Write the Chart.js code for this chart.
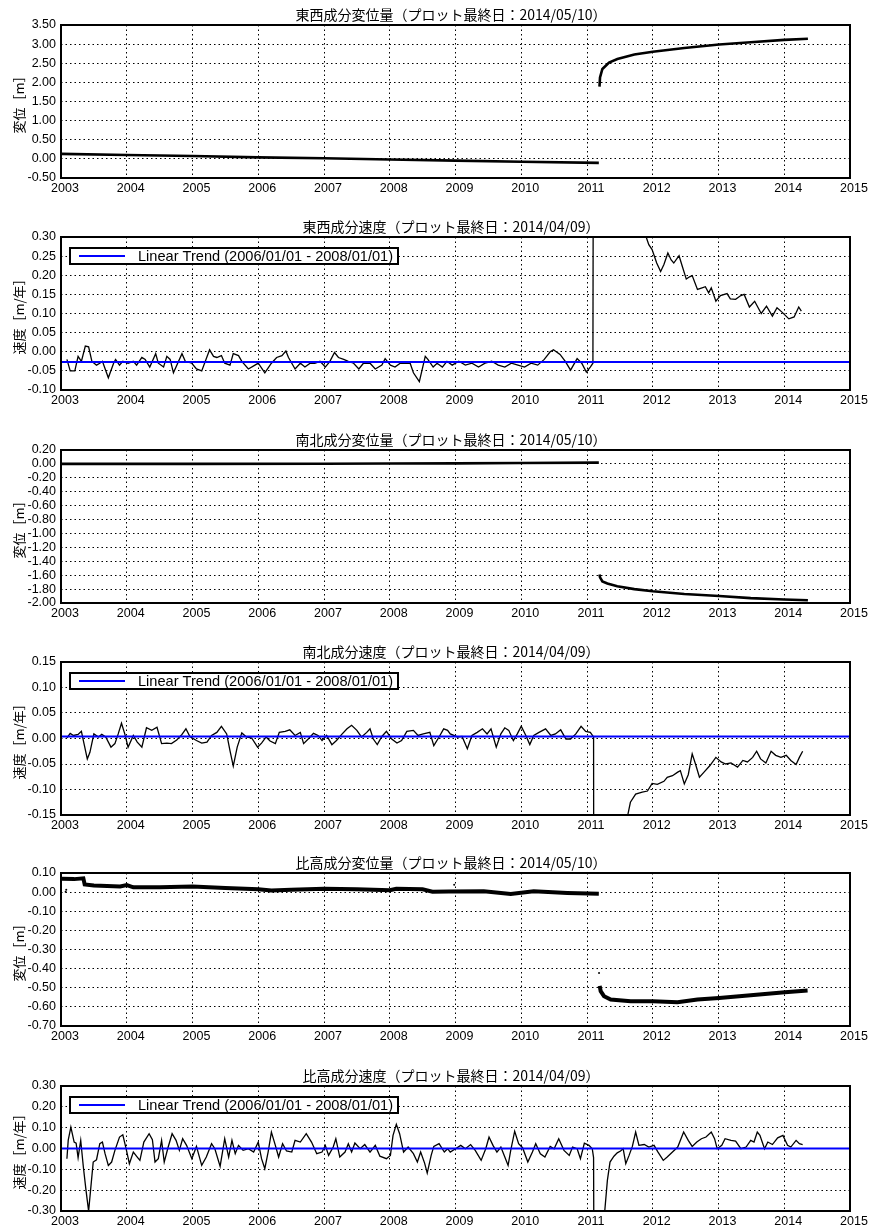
<!DOCTYPE html>
<html lang="ja">
<head>
<meta charset="utf-8">
<title>GNSS 変位・速度</title>
<script src="https://cdn.jsdelivr.net/npm/chart.js@4.4.1/dist/chart.umd.min.js"></script>
<style>
  html, body { margin: 0; padding: 0; background: #fff; }
  #page { position: relative; width: 872px; height: 1228px; overflow: hidden; }
  canvas { position: absolute; left: 0; }
</style>
</head>
<body>
<div id="page">
  <canvas id="p1" width="872" height="198" style="top:0px"></canvas>
  <canvas id="p2" width="872" height="198" style="top:212px"></canvas>
  <canvas id="p3" width="872" height="198" style="top:425px"></canvas>
  <canvas id="p4" width="872" height="198" style="top:637px"></canvas>
  <canvas id="p5" width="872" height="198" style="top:848px"></canvas>
  <canvas id="p6" width="872" height="167" style="top:1061px"></canvas>
</div>
<script>
// ---- axis ticks
const yearTicks = [2003, 2004, 2005, 2006, 2007, 2008, 2009, 2010, 2011, 2012, 2013, 2014, 2015];
const ewDispTicks = [-0.5, 0, 0.5, 1, 1.5, 2, 2.5, 3, 3.5];
const ewVelTicks = [-0.10, -0.05, 0, 0.05, 0.10, 0.15, 0.20, 0.25, 0.30];
const nsDispTicks = [-2.0, -1.8, -1.6, -1.4, -1.2, -1.0, -0.8, -0.6, -0.4, -0.2, 0, 0.2];
const nsVelTicks = [-0.15, -0.10, -0.05, 0, 0.05, 0.10, 0.15];
const udDispTicks = [-0.7, -0.6, -0.5, -0.4, -0.3, -0.2, -0.1, 0, 0.1];
const udVelTicks = [-0.3, -0.2, -0.1, 0, 0.1, 0.2, 0.3];

const titles = [
  '東西成分変位量（プロット最終日：2014/05/10）',
  '東西成分速度（プロット最終日：2014/04/09）',
  '南北成分変位量（プロット最終日：2014/05/10）',
  '南北成分速度（プロット最終日：2014/04/09）',
  '比高成分変位量（プロット最終日：2014/05/10）',
  '比高成分速度（プロット最終日：2014/04/09）'
];
const dispLabel = '変位［m］';
const velLabel = '速度［m/年］';
const trendLabel = 'Linear Trend (2006/01/01 - 2008/01/01)';

// ---- linear trend (2006/01/01 - 2008/01/01), m/yr
const ewTrend = -0.027;
const nsTrend = 0.004;
const udTrend = 0.0;

// ---- east-west displacement (m); null = break at the 2011 quake
const ewDispYear = [2003.00, 2004.00, 2005.00, 2006.00, 2007.00, 2008.00, 2009.00, 2010.00, 2011.18,
  2011.185,
  2011.19, 2011.198, 2011.234, 2011.335, 2011.462, 2011.72, 2012.00, 2012.48, 2013.01, 2013.49, 2014.00, 2014.36];
const ewDispValue = [0.13, 0.10, 0.075, 0.04, 0.015, -0.015, -0.045, -0.075, -0.105,
  null,
  1.89, 2.13, 2.35, 2.52, 2.61, 2.73, 2.80, 2.90, 2.99, 3.05, 3.11, 3.14];

// ---- east-west velocity (m/yr)
const ewVelYear = [
  2003.09, 2003.14, 2003.21, 2003.26, 2003.31, 2003.37, 2003.42, 2003.47, 2003.54, 2003.59,
  2003.63, 2003.72, 2003.80, 2003.83, 2003.89, 2003.94, 2004.02, 2004.10, 2004.15, 2004.23,
  2004.28, 2004.35, 2004.44, 2004.48, 2004.56, 2004.61, 2004.66, 2004.71, 2004.84, 2004.89,
  2004.99, 2005.06, 2005.14, 2005.26, 2005.32, 2005.37, 2005.44, 2005.49, 2005.57, 2005.62,
  2005.70, 2005.75, 2005.85, 2005.95, 2006.00, 2006.10, 2006.20, 2006.28, 2006.36, 2006.42,
  2006.46, 2006.56, 2006.64, 2006.71, 2006.79, 2006.86, 2006.94, 2007.02, 2007.09, 2007.16,
  2007.22, 2007.30, 2007.37, 2007.45, 2007.53, 2007.60, 2007.70, 2007.78, 2007.88, 2007.93,
  2008.01, 2008.08, 2008.16, 2008.23, 2008.31, 2008.36, 2008.45, 2008.54, 2008.58, 2008.66,
  2008.72, 2008.80, 2008.87, 2008.95, 2009.05, 2009.15, 2009.25, 2009.35, 2009.45, 2009.55,
  2009.65, 2009.75, 2009.85, 2009.95, 2010.05, 2010.15, 2010.25, 2010.35, 2010.44, 2010.49,
  2010.59, 2010.67, 2010.75, 2010.85, 2010.92, 2010.99, 2011.05, 2011.09, 2011.11, 2011.50,
  2011.90, 2011.94, 2011.99, 2012.06, 2012.12, 2012.17, 2012.23, 2012.28, 2012.32, 2012.40,
  2012.45, 2012.51, 2012.56, 2012.60, 2012.68, 2012.75, 2012.80, 2012.85, 2012.89, 2012.96,
  2013.03, 2013.13, 2013.18, 2013.26, 2013.34, 2013.39, 2013.47, 2013.55, 2013.65, 2013.73,
  2013.82, 2013.89, 2013.97, 2014.07, 2014.15, 2014.22, 2014.26];
const ewVelValue = [
  -0.020, -0.050, -0.050, -0.012, -0.025, 0.015, 0.013, -0.025, -0.035, -0.030,
  -0.025, -0.068, -0.030, -0.020, -0.035, -0.025, -0.030, -0.025, -0.035, -0.015,
  -0.020, -0.040, -0.005, -0.030, -0.040, -0.012, -0.020, -0.055, -0.005, -0.025,
  -0.030, -0.045, -0.050, 0.005, -0.012, -0.015, -0.010, -0.030, -0.035, -0.005,
  -0.010, -0.025, -0.045, -0.035, -0.030, -0.055, -0.030, -0.015, -0.010, 0.002,
  -0.015, -0.045, -0.030, -0.040, -0.030, -0.030, -0.025, -0.040, -0.025, -0.002,
  -0.015, -0.020, -0.025, -0.030, -0.045, -0.030, -0.030, -0.045, -0.035, -0.018,
  -0.035, -0.040, -0.030, -0.030, -0.030, -0.055, -0.078, -0.012, -0.020, -0.040,
  -0.030, -0.040, -0.025, -0.035, -0.025, -0.035, -0.030, -0.040, -0.030, -0.025,
  -0.035, -0.040, -0.030, -0.035, -0.040, -0.030, -0.035, -0.020, 0.000, 0.005,
  -0.007, -0.025, -0.048, -0.018, -0.030, -0.053, -0.040, -0.030, 2.000, 0.600,
  0.300, 0.280, 0.267, 0.232, 0.210, 0.228, 0.258, 0.240, 0.232, 0.251,
  0.223, 0.190, 0.196, 0.199, 0.163, 0.167, 0.170, 0.154, 0.167, 0.132,
  0.147, 0.152, 0.138, 0.137, 0.147, 0.150, 0.117, 0.132, 0.100, 0.119,
  0.093, 0.115, 0.103, 0.086, 0.091, 0.117, 0.106];

// ---- north-south displacement (m)
const nsDispYear = [2003.00, 2005.00, 2007.00, 2008.00, 2009.00, 2010.00, 2011.18,
  2011.185,
  2011.19, 2011.198, 2011.234, 2011.31, 2011.46, 2011.72, 2012.00, 2012.48, 2013.01, 2013.49, 2014.00, 2014.36];
const nsDispValue = [0.000, 0.000, 0.003, 0.005, 0.008, 0.012, 0.018,
  null,
  -1.59, -1.63, -1.69, -1.72, -1.76, -1.80, -1.83, -1.87, -1.90, -1.93, -1.95, -1.96];

// ---- north-south velocity (m/yr)
const nsVelYear = [
  2003.09, 2003.14, 2003.19, 2003.26, 2003.31, 2003.35, 2003.40, 2003.44, 2003.50, 2003.57,
  2003.62, 2003.68, 2003.76, 2003.82, 2003.87, 2003.92, 2003.97, 2004.02, 2004.10, 2004.16,
  2004.23, 2004.30, 2004.38, 2004.46, 2004.53, 2004.61, 2004.68, 2004.76, 2004.84, 2004.90,
  2004.96, 2005.06, 2005.14, 2005.22, 2005.29, 2005.37, 2005.44, 2005.52, 2005.57, 2005.62,
  2005.68, 2005.75, 2005.82, 2005.90, 2005.99, 2006.05, 2006.12, 2006.18, 2006.26, 2006.32,
  2006.41, 2006.48, 2006.56, 2006.64, 2006.69, 2006.76, 2006.84, 2006.91, 2006.97, 2007.04,
  2007.12, 2007.19, 2007.27, 2007.35, 2007.42, 2007.50, 2007.57, 2007.65, 2007.70, 2007.75,
  2007.81, 2007.88, 2007.95, 2008.03, 2008.11, 2008.18, 2008.26, 2008.36, 2008.43, 2008.51,
  2008.61, 2008.67, 2008.75, 2008.82, 2008.88, 2008.92, 2009.03, 2009.10, 2009.18, 2009.25,
  2009.33, 2009.41, 2009.48, 2009.54, 2009.62, 2009.69, 2009.75, 2009.81, 2009.88, 2009.94,
  2010.00, 2010.07, 2010.13, 2010.19, 2010.27, 2010.37, 2010.45, 2010.52, 2010.60, 2010.68,
  2010.75, 2010.83, 2010.91, 2010.98, 2011.05, 2011.10, 2011.11, 2011.40, 2011.62, 2011.66,
  2011.74, 2011.84, 2011.92, 2011.99, 2012.07, 2012.17, 2012.22, 2012.30, 2012.38, 2012.42,
  2012.48, 2012.54, 2012.60, 2012.65, 2012.71, 2012.78, 2012.87, 2012.96, 2013.04, 2013.11,
  2013.19, 2013.29, 2013.37, 2013.44, 2013.52, 2013.58, 2013.64, 2013.72, 2013.80, 2013.87,
  2013.95, 2014.03, 2014.10, 2014.18, 2014.23, 2014.28];
const nsVelValue = [
  0.001, 0.010, 0.006, 0.008, 0.014, -0.010, -0.040, -0.027, 0.009, 0.003,
  0.008, 0.003, -0.017, -0.010, 0.009, 0.030, 0.009, -0.017, 0.006, -0.007,
  -0.017, 0.021, 0.016, 0.022, -0.010, -0.009, -0.010, -0.003, 0.008, 0.019,
  0.004, -0.004, -0.009, -0.007, 0.006, 0.012, 0.024, 0.009, -0.024, -0.054,
  -0.017, 0.011, 0.003, 0.001, -0.017, -0.009, 0.003, -0.005, -0.010, 0.012,
  0.014, 0.017, 0.006, 0.012, -0.010, -0.001, 0.010, 0.006, -0.004, 0.006,
  -0.012, -0.004, 0.008, 0.019, 0.026, 0.016, 0.003, 0.012, 0.019, -0.001,
  -0.012, 0.004, 0.014, -0.001, -0.009, -0.004, 0.014, 0.016, 0.006, 0.009,
  0.012, -0.014, 0.003, 0.019, 0.016, 0.009, 0.003, 0.004, -0.020, 0.006,
  0.012, 0.019, 0.009, 0.019, -0.017, 0.009, 0.021, 0.016, -0.004, 0.009,
  0.024, 0.006, -0.012, 0.006, 0.012, 0.019, 0.006, 0.009, 0.017, -0.001,
  -0.001, 0.009, 0.024, 0.014, 0.012, 0.003, -1.200, -0.300, -0.150, -0.125,
  -0.109, -0.105, -0.103, -0.088, -0.090, -0.084, -0.076, -0.073, -0.066, -0.063,
  -0.089, -0.071, -0.030, -0.050, -0.076, -0.066, -0.053, -0.037, -0.046, -0.050,
  -0.048, -0.056, -0.043, -0.046, -0.037, -0.025, -0.040, -0.048, -0.025, -0.033,
  -0.037, -0.033, -0.043, -0.051, -0.037, -0.025];

// ---- up-down displacement (m)
const udDispYear = [2003.00, 2003.20, 2003.34, 2003.36, 2003.50, 2003.90, 2004.00, 2004.10, 2004.50, 2005.00,
  2005.50, 2006.00, 2006.20, 2006.50, 2007.00, 2007.50, 2008.00, 2008.10, 2008.50, 2008.65,
  2008.90, 2009.43, 2009.84, 2010.19, 2010.70, 2011.18,
  2011.185,
  2011.193, 2011.208, 2011.259, 2011.36, 2011.665, 2012.005, 2012.376, 2012.68, 2013.01,
  2013.49, 2014.01, 2014.355];
const udDispValue = [0.070, 0.068, 0.072, 0.040, 0.035, 0.030, 0.037, 0.025, 0.025, 0.030,
  0.022, 0.015, 0.008, 0.012, 0.018, 0.015, 0.010, 0.018, 0.015, 0.002,
  0.003, 0.004, -0.010, 0.004, -0.004, -0.008,
  null,
  -0.490, -0.518, -0.544, -0.562, -0.570, -0.570, -0.576, -0.562, -0.553,
  -0.539, -0.523, -0.515];
const udOutlierYear = [2003.07, 2003.08, 2008.98, 2011.183];
const udOutlierValue = [0.002, 0.012, 0.038, -0.423];

// ---- up-down velocity (m/yr)
const udVelYear = [
  2003.09, 2003.11, 2003.15, 2003.20, 2003.23, 2003.26, 2003.30, 2003.34, 2003.38, 2003.42,
  2003.45, 2003.49, 2003.54, 2003.59, 2003.63, 2003.67, 2003.72, 2003.77, 2003.82, 2003.89,
  2003.94, 2003.99, 2004.04, 2004.10, 2004.16, 2004.20, 2004.26, 2004.34, 2004.39, 2004.43,
  2004.48, 2004.53, 2004.57, 2004.63, 2004.69, 2004.75, 2004.80, 2004.85, 2004.91, 2004.99,
  2005.06, 2005.14, 2005.21, 2005.29, 2005.34, 2005.42, 2005.49, 2005.55, 2005.60, 2005.65,
  2005.70, 2005.77, 2005.85, 2005.93, 2006.00, 2006.05, 2006.10, 2006.15, 2006.20, 2006.26,
  2006.31, 2006.37, 2006.43, 2006.51, 2006.56, 2006.64, 2006.73, 2006.81, 2006.89, 2006.97,
  2007.02, 2007.07, 2007.14, 2007.18, 2007.24, 2007.32, 2007.37, 2007.42, 2007.47, 2007.55,
  2007.62, 2007.70, 2007.78, 2007.85, 2007.95, 2008.01, 2008.05, 2008.10, 2008.15, 2008.21,
  2008.28, 2008.36, 2008.42, 2008.47, 2008.53, 2008.57, 2008.63, 2008.67, 2008.75, 2008.83,
  2008.88, 2008.92, 2009.00, 2009.08, 2009.15, 2009.23, 2009.30, 2009.39, 2009.46, 2009.51,
  2009.57, 2009.63, 2009.69, 2009.75, 2009.80, 2009.84, 2009.90, 2009.96, 2010.02, 2010.10,
  2010.17, 2010.22, 2010.29, 2010.36, 2010.44, 2010.50, 2010.57, 2010.65, 2010.73, 2010.78,
  2010.85, 2010.90, 2010.96, 2011.03, 2011.08, 2011.10, 2011.11, 2011.20, 2011.27, 2011.31,
  2011.35, 2011.41, 2011.46, 2011.51, 2011.55, 2011.59, 2011.64, 2011.69, 2011.74, 2011.79,
  2011.87, 2011.94, 2012.02, 2012.08, 2012.16, 2012.22, 2012.30, 2012.38, 2012.47, 2012.54,
  2012.60, 2012.67, 2012.74, 2012.81, 2012.89, 2012.94, 2012.98, 2013.05, 2013.10, 2013.19,
  2013.26, 2013.34, 2013.42, 2013.49, 2013.54, 2013.59, 2013.63, 2013.70, 2013.75, 2013.82,
  2013.90, 2013.98, 2014.05, 2014.10, 2014.18, 2014.23, 2014.28];
const udVelValue = [
  -0.049, 0.040, 0.103, 0.031, 0.026, -0.044, 0.039, -0.089, -0.200, -0.300,
  -0.200, -0.065, -0.054, 0.023, 0.031, -0.025, -0.081, -0.065, -0.009, 0.055,
  0.066, -0.001, -0.073, -0.017, -0.041, -0.057, 0.031, 0.071, 0.042, -0.065,
  -0.049, 0.039, -0.065, 0.007, 0.071, 0.039, -0.009, 0.047, 0.015, -0.049,
  0.010, -0.081, -0.041, 0.023, -0.001, -0.086, 0.047, -0.041, 0.039, -0.025,
  0.015, -0.009, -0.001, -0.017, 0.031, -0.049, -0.097, -0.017, 0.079, 0.015,
  -0.041, 0.023, -0.012, -0.017, 0.039, 0.031, 0.071, 0.031, -0.025, -0.017,
  0.015, -0.033, 0.007, 0.047, -0.041, -0.017, 0.023, -0.017, 0.026, -0.001,
  0.019, -0.017, 0.015, -0.037, -0.049, -0.033, 0.063, 0.116, 0.071, -0.017,
  0.007, -0.025, -0.065, -0.017, -0.070, -0.118, -0.033, 0.010, 0.023, -0.017,
  -0.001, -0.017, -0.001, 0.015, -0.001, 0.019, -0.009, -0.057, -0.001, 0.055,
  0.015, -0.017, 0.007, -0.041, -0.081, -0.009, 0.083, 0.023, 0.004, -0.065,
  -0.017, 0.023, -0.025, -0.041, 0.010, -0.001, 0.047, -0.009, -0.033, 0.007,
  -0.001, -0.049, 0.026, 0.015, -0.001, -0.044, -1.000, -0.600, -0.300, -0.153,
  -0.065, -0.037, -0.021, -0.012, -0.001, -0.073, -0.033, 0.010, 0.079, 0.015,
  0.019, 0.007, 0.015, -0.017, -0.057, -0.041, -0.017, 0.007, 0.079, 0.039,
  0.010, 0.031, 0.047, 0.055, 0.079, 0.047, -0.001, 0.015, 0.047, 0.039,
  0.035, -0.001, 0.007, 0.039, 0.031, 0.079, 0.063, -0.001, 0.031, 0.019,
  0.051, 0.063, 0.015, 0.007, 0.039, 0.023, 0.019];

// ---- helpers
const pts = (xs, ys) => xs.map((x, i) => ({ x: x, y: ys[i] }));
const trendPts = v => [{ x: yearTicks[0], y: v }, { x: yearTicks[yearTicks.length - 1], y: v }];
const tickFont = { family: '"Liberation Sans", Arial, sans-serif', size: 12.5 };
const jpFont = '"Noto Sans CJK JP", sans-serif';

// frame, title and legend box drawn around the library's chart area
const framePlugin = {
  id: 'frame',
  afterDatasetsDraw(chart, args, opts) {
    const { ctx, chartArea: a } = chart;
    ctx.save();
    if (opts.legend) {
      const bx = 70, by = a.top + 11, bw = 328, bh = 16;
      ctx.fillStyle = '#fff';
      ctx.fillRect(bx, by, bw, bh);
      ctx.strokeStyle = '#000';
      ctx.lineWidth = 2;
      ctx.strokeRect(bx, by, bw, bh);
      ctx.strokeStyle = '#0000ff';
      ctx.beginPath();
      ctx.moveTo(79, by + bh / 2);
      ctx.lineTo(125, by + bh / 2);
      ctx.stroke();
      ctx.fillStyle = '#000';
      ctx.font = '14.6px "Liberation Sans", Arial, sans-serif';
      ctx.textBaseline = 'middle';
      ctx.textAlign = 'left';
      ctx.fillText(trendLabel, 138, by + bh / 2 + 0.5);
    }
    ctx.strokeStyle = '#000';
    ctx.lineWidth = 2;
    ctx.strokeRect(a.left, a.top, a.right - a.left, a.bottom - a.top);
    ctx.fillStyle = '#000';
    ctx.font = '14px ' + jpFont;
    ctx.textAlign = 'center';
    ctx.textBaseline = 'middle';
    ctx.fillText(opts.title, 451, a.top - 10);
    ctx.restore();
  }
};

function drawPanel(id, p) {
  const canvas = document.getElementById(id);
  const datasets = [];
  if (p.trend !== undefined) {
    datasets.push({ data: trendPts(p.trend), borderColor: '#0000ff', borderWidth: 2, pointRadius: 0 });
  }
  datasets.push({ data: pts(p.xs, p.ys), borderColor: '#000', borderWidth: p.width, pointRadius: 0, spanGaps: false });
  if (p.outX) {
    datasets.push({ data: pts(p.outX, p.outY), showLine: false, pointRadius: 1, borderWidth: 0, backgroundColor: '#000' });
  }
  new Chart(canvas, {
    type: 'line',
    data: { datasets: datasets },
    options: {
      responsive: false,
      animation: false,
      events: [],
      layout: { padding: { top: 25, right: 22, left: 0, bottom: 0 } },
      elements: { line: { tension: 0 } },
      datasets: { line: { clip: 0 } },
      scales: {
        x: {
          type: 'linear',
          min: yearTicks[0],
          max: yearTicks[yearTicks.length - 1],
          afterBuildTicks: s => { s.ticks = yearTicks.map(v => ({ value: v })); },
          afterFit: s => { s.height = canvas.height - 25 - p.plotH; },
          ticks: { font: tickFont, color: '#000', padding: 3, labelOffset: 4, maxRotation: 0, autoSkip: false,
                   callback: v => String(v) },
          grid: { color: '#000', lineWidth: 1, drawTicks: false },
          border: { display: false, dash: [1.5, 3] }
        },
        y: {
          type: 'linear',
          min: p.ticks[0],
          max: p.ticks[p.ticks.length - 1],
          afterBuildTicks: s => { s.ticks = p.ticks.map(v => ({ value: v })); },
          afterFit: s => { s.width = 61; },
          ticks: { font: tickFont, color: '#000', padding: 5, autoSkip: false,
                   callback: v => v.toFixed(2) },
          grid: { color: '#000', lineWidth: 1, drawTicks: false },
          border: { display: false, dash: [1.5, 3] },
          title: { display: true, text: p.label, color: '#000',
                   font: { family: jpFont, size: 13 }, padding: { top: 11, bottom: 0 } }
        }
      },
      plugins: {
        legend: { display: false },
        tooltip: { enabled: false },
        frame: { title: p.title, legend: p.trend !== undefined }
      }
    },
    plugins: [framePlugin]
  });
}

drawPanel('p1', { title: titles[0], label: dispLabel, ticks: ewDispTicks, xs: ewDispYear, ys: ewDispValue, width: 2.6, plotH: 153 });
drawPanel('p2', { title: titles[1], label: velLabel, ticks: ewVelTicks, xs: ewVelYear, ys: ewVelValue, width: 1.3, trend: ewTrend, plotH: 153 });
drawPanel('p3', { title: titles[2], label: dispLabel, ticks: nsDispTicks, xs: nsDispYear, ys: nsDispValue, width: 2.6, plotH: 153 });
drawPanel('p4', { title: titles[3], label: velLabel, ticks: nsVelTicks, xs: nsVelYear, ys: nsVelValue, width: 1.3, trend: nsTrend, plotH: 153 });
drawPanel('p5', { title: titles[4], label: dispLabel, ticks: udDispTicks, xs: udDispYear, ys: udDispValue, width: 4,
                  outX: udOutlierYear, outY: udOutlierValue, plotH: 153 });
drawPanel('p6', { title: titles[5], label: velLabel, ticks: udVelTicks, xs: udVelYear, ys: udVelValue, width: 1.3, trend: udTrend, plotH: 125 });
</script>
</body>
</html>
